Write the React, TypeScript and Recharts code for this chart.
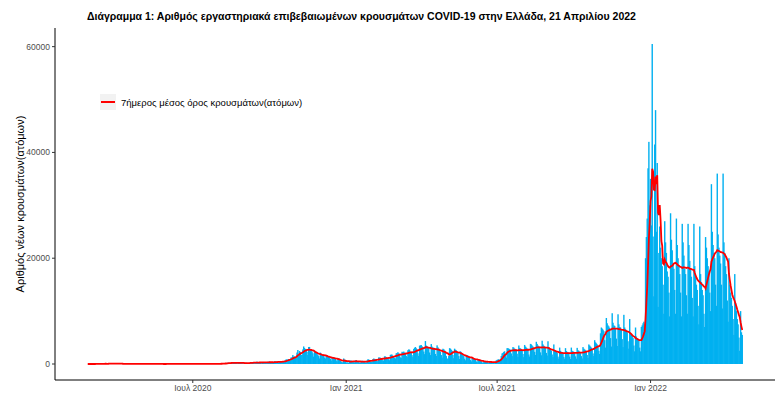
import { ComposedChart, Bar, Line, XAxis, YAxis } from 'recharts'

// daily lab-confirmed cases, consecutive days starting 26 Feb 2020 (rows = weeks, Wed..Tue)
const casesA = [
  1, 2, 0, 0, 0, 0, 4,
  2, 1, 21, 7, 29, 7, 27,
  10, 18, 91, 38, 62, 21, 35,
  56, 31, 46, 31, 94, 71, 48,
  78, 71, 74, 73, 95, 60, 102,
  50, 129, 31, 40, 62, 20, 33,
  40, 60, 14, 19, 9, 11, 25,
  20, 13, 18, 10, 156, 8, 20,
  15, 9, 10, 19, 15, 7, 22,
  10, 15, 18, 4, 3, 13, 2,
  11, 20, 7, 5, 3, 2, 10,
  3, 9, 21, 6, 4, 2, 4,
  18, 4, 2, 3, 2, 2, 4,
  3, 13, 1, 8, 7, 5, 9,
  3, 6, 10, 4, 15, 1, 8,
  28, 14, 11, 24, 6, 5, 4,
  20, 17, 16, 15, 9, 3, 5,
  18, 14, 6, 10, 13, 10, 19,
  14, 8, 18, 6, 32, 11, 19,
  18, 17, 9, 33, 24, 11, 22,
  14, 26, 15, 28, 20, 14, 21,
  25, 29, 24, 29, 57, 30, 40,
  36, 45, 40, 25, 67, 37, 78,
  45, 121, 124, 113, 128, 67, 150,
  262, 203, 230, 190, 217, 140, 269,
  275, 225, 203, 196, 155, 102, 284,
  293, 250, 203, 168, 123, 101, 157,
  209, 247, 195, 171, 155, 108, 266,
  316, 372, 221, 259, 148, 164, 270,
  453, 287, 370, 285, 188, 229, 343,
  319, 384, 336, 311, 210, 190, 418,
  407, 460, 292, 339, 200, 219, 359,
  523, 453, 508, 300, 309, 240, 510,
  556, 451, 511, 490, 465, 374, 737,
  882, 842, 865, 935, 867, 643, 1259,
  1211, 1690, 1380, 1430, 1150, 1160, 2166,
  2646, 1920, 2448, 2249, 1719, 1713, 2752,
  3316, 3038, 2835, 2698, 2312, 1695, 3209,
  3227, 2820, 2714, 2356, 2028, 1383, 2409,
  2227, 2311, 2070, 1735, 1498, 1044, 2152,
  1917, 1825, 1724, 1667, 1228, 1034, 1711,
  1499, 1328, 1395, 1176, 1005, 656, 1245,
  1331, 1259, 1057, 1001, 702, 490, 1006,
  1034, 831, 589, 460, 397, 262, 1047,
]

// 30 Dec 2020 .. 2 Nov 2021
const casesB = [
  845, 701, 264, 347, 262, 242, 659,
  624, 663, 467, 497, 364, 301, 689,
  727, 574, 430, 363, 282, 219, 582,
  621, 578, 474, 369, 282, 240, 666,
  887, 855, 673, 463, 431, 426, 892,
  1041, 968, 883, 817, 546, 537, 1247,
  1220, 1190, 1070, 1008, 695, 651, 1449,
  1428, 1293, 1200, 1129, 898, 714, 1731,
  1785, 1774, 1490, 1403, 1154, 1030, 2023,
  2084, 2231, 2028, 1767, 1253, 1189, 2317,
  2263, 2353, 2163, 2073, 1540, 1311, 2608,
  2760, 2702, 2340, 2121, 1678, 1298, 2847,
  3057, 3215, 2970, 2765, 2016, 1520, 3465,
  3534, 3586, 3351, 3166, 2353, 1866, 4340,
  3489, 3383, 3145, 3004, 2178, 1690, 3769,
  3287, 3089, 3080, 2918, 1897, 1513, 3527,
  3166, 2893, 2604, 2310, 1690, 1208, 2884,
  2800, 2594, 2200, 1500, 1044, 985, 1500,
  3000, 2900, 2700, 2500, 1700, 1100, 2900,
  2700, 2600, 2350, 2050, 1500, 950, 2400,
  2200, 2050, 1700, 1500, 1000, 700, 1650,
  1700, 1600, 1350, 1150, 750, 500, 1300,
  1100, 1050, 950, 850, 500, 350, 900,
  800, 750, 600, 520, 330, 200, 600,
  550, 520, 450, 400, 250, 150, 480,
  470, 420, 370, 330, 200, 140, 450,
  700, 780, 850, 900, 700, 550, 1500,
  2000, 2100, 2300, 2400, 1800, 1200, 3000,
  3000, 2900, 2800, 2700, 2000, 1500, 3200,
  3100, 2900, 2800, 2700, 1950, 1350, 3500,
  3050, 2950, 2850, 2650, 1900, 1300, 3600,
  3300, 3100, 2950, 2800, 1800, 1400, 3800,
  3700, 3500, 3300, 3100, 2300, 1700, 4200,
  3800, 3500, 3350, 3150, 2200, 1650, 4400,
  3700, 3450, 3300, 3000, 2100, 1600, 4300,
  3200, 2900, 2800, 2500, 1800, 1300, 3700,
  2600, 2500, 2300, 2100, 1400, 1000, 3100,
  2500, 2300, 2200, 2000, 1350, 1000, 3000,
  2450, 2300, 2200, 2000, 1400, 950, 3100,
  2500, 2400, 2300, 2050, 1450, 1000, 3050,
  2600, 2500, 2300, 2100, 1500, 1050, 3200,
  2900, 2750, 2600, 2400, 1700, 1150, 3700,
  3500, 3300, 3100, 2900, 2000, 1500, 4500,
  4100, 3900, 3700, 3400, 2500, 1900, 5800,
]

// 3 Nov 2021 .. 21 Apr 2022
const casesC = [
  6900, 6700, 6500, 6200, 4500, 3100, 8700,
  7700, 7300, 7100, 6800, 4900, 3300, 9600,
  7800, 7300, 7200, 6700, 4800, 3400, 9400,
  7500, 7000, 6900, 6400, 4700, 3200, 9300,
  6900, 6600, 6400, 6000, 4300, 2900, 8500,
  5800, 5500, 5300, 4900, 3500, 2400, 6900,
  5200, 4900, 4700, 4400, 3100, 2400, 7000,
  7300, 7700, 8000, 7600, 20000, 24000, 27500,
  37000, 42000, 30000, 35000, 26200, 60500, 24100,
  12800, 41500, 48000, 25000, 38000, 10800, 21000,
  26000, 22000, 20000, 18500, 15000, 9500, 27000,
  23000, 21000, 17500, 16500, 13500, 9000, 28500,
  23500, 21500, 19000, 18000, 14000, 9500, 27500,
  22500, 20000, 18500, 17000, 13500, 9000, 26500,
  23000, 20500, 18000, 17000, 13000, 9500, 26500,
  22500, 19500, 18000, 16500, 12500, 9000, 26500,
  18500, 16500, 15000, 14000, 11000, 7500, 26000,
  17000, 15500, 14000, 13000, 9500, 7000, 24000,
  22000, 20000, 18500, 17500, 13500, 10000, 34000,
  25000, 22500, 21000, 20000, 15000, 11000, 36000,
  24500, 22000, 20500, 19000, 15000, 10500, 36000,
  23000, 21000, 18500, 17000, 12000, 8000, 20000,
  15000, 13500, 12500, 11000, 8500, 5500, 17000,
  11500, 10000, 8500, 7500, 5000, 2500, 10000,
  6000, 5500,
]

// x ticks: days since 26 Feb 2020
const tickDays = [126, 310, 491, 675]
const tickLabels = ['Ιουλ 2020', 'Ιαν 2021', 'Ιουλ 2021', 'Ιαν 2022']
const yTicks = [0, 20000, 40000, 60000]

const FONT = '"Liberation Sans", Arial, Helvetica, sans-serif'
const BAR_W = 1.4

const daily = [...casesA, ...casesB, ...casesC]

// 7-day trailing mean
const chartData = daily.map((cases, i) => {
  const win = daily.slice(Math.max(0, i - 6), i + 1)
  const avg7 = win.reduce((s, v) => s + v, 0) / win.length
  return { day: i, cases, avg7 }
})

const lastDay = daily.length - 1
const padX = lastDay * 0.05
const maxY = Math.max(...daily)
const padY = maxY * 0.05

// recharts squeezes the bars to 0.9 of a day; widen them a bit around the same centre
function DayBar(props: any) {
  const { x, y, width, height } = props
  if (height == null || height <= 0) return null
  const cx = x + width / 2
  return <rect x={cx - BAR_W / 2} y={y} width={BAR_W} height={height} fill="#00B0F0" />
}

function LegendBox() {
  return (
    <div
      style={{
        position: 'absolute',
        left: 100,
        top: 94,
        display: 'flex',
        alignItems: 'center',
        fontFamily: FONT,
        fontSize: 9.5,
        color: '#000',
        whiteSpace: 'nowrap',
      }}
    >
      <div style={{ width: 16, height: 16, background: '#F2F2F2', position: 'relative', marginRight: 5 }}>
        <div style={{ position: 'absolute', left: 1, right: 1, top: 7, height: 2, background: '#FF0000' }} />
      </div>
      <span>7ήμερος μέσος όρος κρουσμάτων(ατόμων)</span>
    </div>
  )
}

export default function App() {
  const tickStyle = { fontFamily: FONT, fontSize: 8.5, fill: '#4D4D4D' }
  return (
    <div style={{ position: 'absolute', left: 0, top: 0, width: 783, height: 396, background: '#fff' }}>
      <ComposedChart
        width={783}
        height={396}
        data={chartData}
        margin={{ top: 28, right: 8, bottom: 0, left: 0 }}
        barCategoryGap={0}
      >
        <XAxis
          dataKey="day"
          type="number"
          domain={[-padX, lastDay + padX]}
          ticks={tickDays}
          tickFormatter={(d: number) => tickLabels[tickDays.indexOf(d)] ?? ''}
          height={16}
          tickSize={3}
          tickMargin={2}
          stroke="#000"
          tick={tickStyle}
          tickLine={{ stroke: '#333' }}
          allowDataOverflow
        />
        <YAxis
          type="number"
          domain={[-padY, maxY + padY]}
          ticks={yTicks}
          width={55}
          tickSize={3}
          tickMargin={2}
          stroke="#000"
          tick={tickStyle}
          tickLine={{ stroke: '#333' }}
          allowDataOverflow
        />
        <Bar dataKey="cases" fill="#00B0F0" shape={DayBar} isAnimationActive={false} />
        <Line
          type="linear"
          dataKey="avg7"
          stroke="#FF0000"
          strokeWidth={1.8}
          dot={false}
          isAnimationActive={false}
        />
      </ComposedChart>
      <div
        style={{
          position: 'absolute',
          left: 87,
          top: 10,
          fontFamily: FONT,
          fontWeight: 'bold',
          fontSize: 10.5,
          whiteSpace: 'nowrap',
          color: '#000',
        }}
      >
        Διάγραμμα 1: Αριθμός εργαστηριακά επιβεβαιωμένων κρουσμάτων COVID-19 στην Ελλάδα, 21 Απριλίου 2022
      </div>
      <div
        style={{
          position: 'absolute',
          left: 20,
          top: 204,
          transform: 'translate(-50%, -50%) rotate(-90deg)',
          fontFamily: FONT,
          fontSize: 11,
          whiteSpace: 'nowrap',
          color: '#000',
        }}
      >
        Αριθμός νέων κρουσμάτων(ατόμων)
      </div>
      <LegendBox />
    </div>
  )
}
